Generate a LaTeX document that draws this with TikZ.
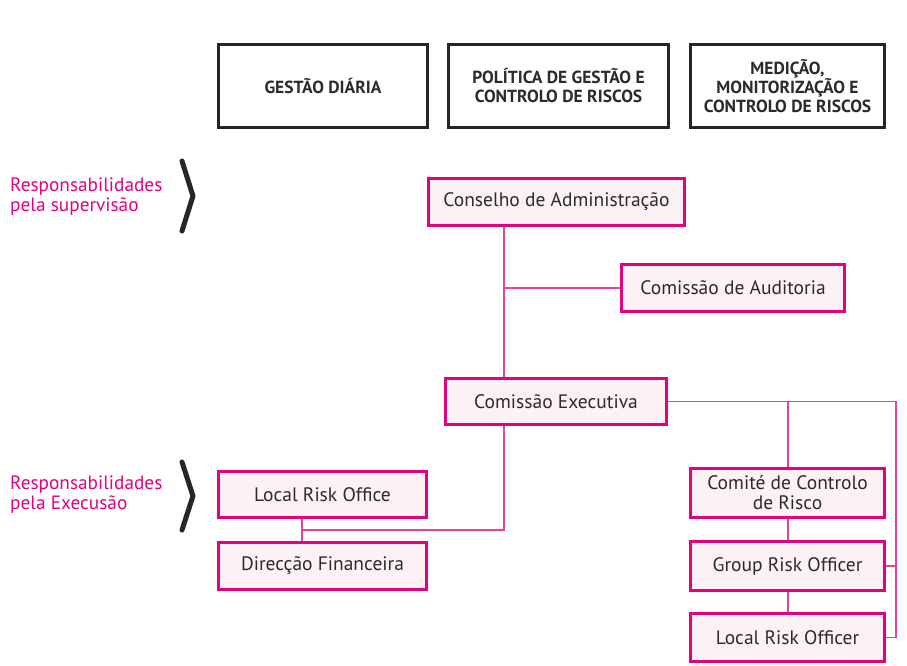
\documentclass[tikz,border=0pt]{standalone}
\usepackage{fontspec}
\setmainfont{PT Sans}
\definecolor{mag}{HTML}{E6007E}
\definecolor{linepink}{HTML}{EE3E9A}
\definecolor{boxfill}{HTML}{FCF2F6}
\definecolor{txt}{HTML}{2B2B2B}
\begin{document}
\begin{tikzpicture}[x=1pt,y=-1pt,
  pbox/.style={draw=mag,line width=3pt,fill=boxfill,text=txt,font=\fontsize{19.5}{20}\selectfont,align=center,inner sep=0pt},
  hbox/.style={draw=black!85,line width=3pt,fill=white,text=txt,font=\bfseries\fontsize{17.5}{19}\selectfont,align=center,inner sep=0pt},
  conn/.style={draw=linepink,line width=1.4pt},
  chev/.style={draw=black!85,line width=5pt,line cap=round,line join=round},
  side/.style={text=mag,font=\fontsize{19.3}{20}\selectfont,align=left,anchor=west,inner sep=0pt}]
\useasboundingbox (0,0) rectangle (907,665);
% headers
\node[hbox,minimum width=209pt,minimum height=83pt] (h1) at (323,86) {GESTÃO DIÁRIA};
\node[hbox,minimum width=220pt,minimum height=83pt] (h2) at (558.5,86) {POLÍTICA DE GESTÃO E\\CONTROLO DE RISCOS};
\node[hbox,minimum width=194pt,minimum height=83pt] (h3) at (787.5,86) {MEDIÇÃO,\\MONITORIZAÇÃO E\\CONTROLO DE RISCOS};
% side labels
\node[side] (s1) at (10,197) {Responsabilidades\\pela supervisão};
\node[side] (s2) at (10,495) {Responsabilidades\\pela Execusão};
\draw[chev] (182,161) -- (193,196) -- (182,231);
\draw[chev] (182,462) -- (193,496) -- (182,530);
% pink boxes
\node[pbox,minimum width=256pt,minimum height=47pt] (cons) at (556.5,202) {Conselho de Administração};
\node[pbox,minimum width=223pt,minimum height=47pt] (aud) at (733,288) {Comissão de Auditoria};
\node[pbox,minimum width=221pt,minimum height=46pt] (exe) at (556,401.5) {Comissão Executiva};
\node[pbox,minimum width=208pt,minimum height=46pt] (lro) at (322.5,494.5) {Local Risk Office};
\node[pbox,minimum width=208pt,minimum height=47pt] (dif) at (322.5,566) {Direcção Financeira};
\node[pbox,minimum width=194pt,minimum height=49pt] (ccr) at (787.5,493) {Comité de Controlo\\de Risco};
\node[pbox,minimum width=194pt,minimum height=49pt] (gro) at (787.5,566) {Group Risk Officer};
\node[pbox,minimum width=194pt,minimum height=48pt] (lrof) at (787.5,637.5) {Local Risk Officer};
% connectors
\coordinate (j1) at (504,288);
\coordinate (j2) at (504,530);
\coordinate (j3) at (302,530);
\coordinate (r1) at (896,401.5);
\coordinate (r2) at (896,566);
\coordinate (r3) at (896,637.5);
\coordinate (t1) at (788,401.5);
\draw[conn] (cons.south -| j1) -- (exe.north -| j1);
\draw[conn] (j1) -- (aud.west);
\draw[conn] (exe.south -| j2) -- (j2) -- (j3);
\draw[conn] (lro.south -| j3) -- (dif.north -| j3);
\draw[conn] (exe.east) -- (r1) -- (r3) -- (lrof.east);
\draw[conn] (r2) -- (gro.east);
\draw[conn] (t1) -- (ccr.north -| t1);
\draw[conn] (ccr.south -| t1) -- (gro.north -| t1);
\draw[conn] (gro.south -| t1) -- (lrof.north -| t1);
\end{tikzpicture}
\end{document}
